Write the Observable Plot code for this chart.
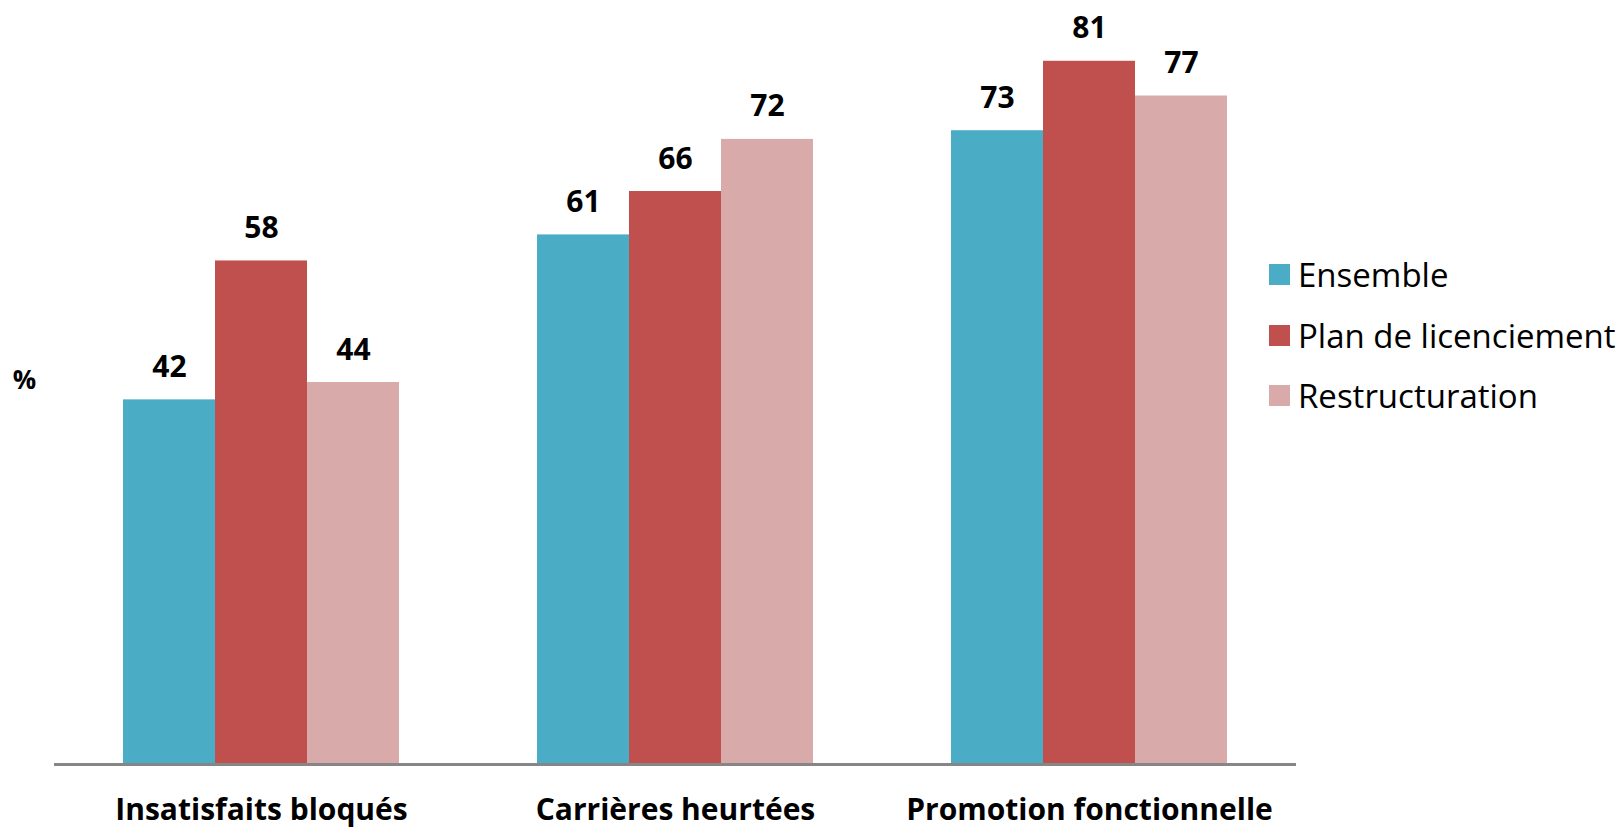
<!DOCTYPE html>
<html>
<head>
<meta charset="utf-8">
<script src="https://cdn.jsdelivr.net/npm/d3@7"></script>
<script src="https://cdn.jsdelivr.net/npm/@observablehq/plot@0.6"></script>
<style>
  html, body { margin: 0; padding: 0; background: white; }
  #wrap { position: relative; width: 1619px; height: 830px; font-family: "Open Sans", sans-serif; }
  #legend { position: absolute; left: 1269px; top: 0; }
  .item { position: absolute; left: 0; white-space: nowrap; display: flex; align-items: center; height: 44px; }
  .sw { width: 21px; height: 21px; margin-right: 8px; flex: none; }
  .lab { font-size: 33px; color: #000; }
</style>
</head>
<body>
<div id="wrap"></div>
<script>
const categories = ["Insatisfaits bloqués", "Carrières heurtées", "Promotion fonctionnelle"];
const series = ["Ensemble", "Plan de licenciement", "Restructuration"];
const ensemble = [42, 61, 73];
const planLicenciement = [58, 66, 81];
const restructuration = [44, 72, 77];
const colors = ["#4BACC6", "#C0504D", "#D9AAAA"];

const values = [ensemble, planLicenciement, restructuration];
const data = categories.flatMap((c, i) => series.map((s, j) => ({cat: c, s, v: values[j][i]})));

const chart = Plot.plot({
  width: 1619,
  height: 830,
  marginLeft: 53,
  marginRight: 322,
  marginTop: 0,
  marginBottom: 66,
  fx: {domain: categories, padding: 0, label: null},
  x: {domain: series, paddingInner: 0, paddingOuter: 0.73, axis: null},
  y: {domain: [0, 88], axis: null},
  color: {domain: series, range: colors},
  style: {fontFamily: "Open Sans, sans-serif", background: "white", color: "black", overflow: "visible"},
  marks: [
    Plot.barY(data, {fx: "cat", x: "s", y: "v", fill: "s"}),
    Plot.text(data, {fx: "cat", x: "s", y: "v", text: d => String(d.v), dy: -23, lineAnchor: "bottom", fontWeight: "bold", fontSize: 30, fill: "black"}),
    Plot.ruleY([0], {stroke: "#868686", strokeWidth: 3}),
    Plot.text(["%"], {frameAnchor: "left", dx: -30, dy: -2, textAnchor: "middle", fontWeight: "bold", fontSize: 26, fill: "black", facet: "super"}),
    Plot.axisFx({anchor: "bottom", tickSize: 0, tickPadding: 34, fontSize: 30, fontWeight: "bold", label: null})
  ]
});

const wrap = document.getElementById("wrap");
wrap.appendChild(chart);

const legend = document.createElement("div");
legend.id = "legend";
const rowY = [274, 335, 395];
series.forEach((s, i) => {
  const item = document.createElement("div");
  item.className = "item";
  item.style.top = (rowY[i] - 22) + "px";
  const sw = document.createElement("div");
  sw.className = "sw";
  sw.style.background = colors[i];
  const lab = document.createElement("span");
  lab.className = "lab";
  lab.textContent = s;
  item.appendChild(sw);
  item.appendChild(lab);
  legend.appendChild(item);
});
wrap.appendChild(legend);
</script>
</body>
</html>
